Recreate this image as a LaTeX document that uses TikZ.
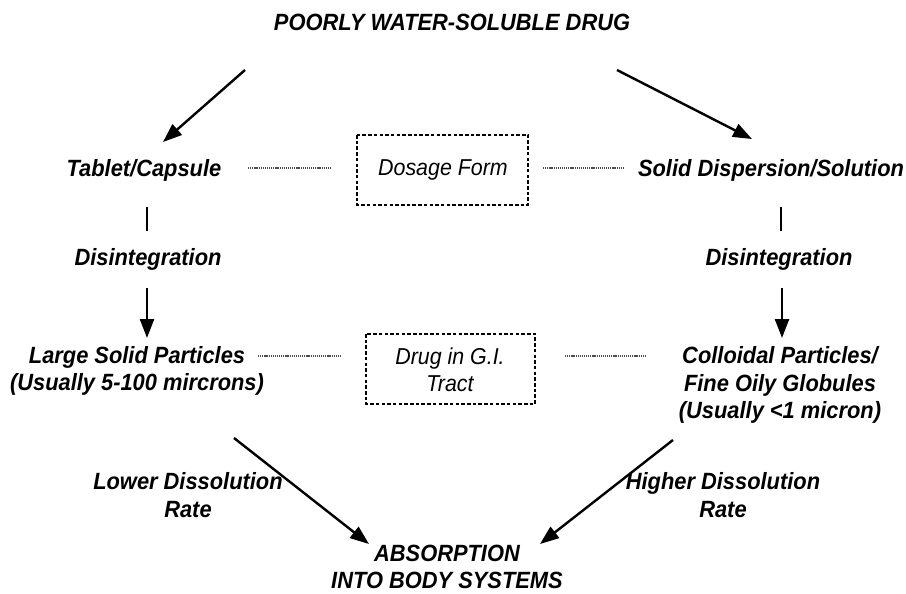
\documentclass[tikz,border=0pt]{standalone}
\usepackage{fontspec}
\setmainfont{Liberation Sans}[FakeStretch=0.93]
\usetikzlibrary{arrows.meta}
\begin{document}
\begin{tikzpicture}[x=1pt,y=-1pt,
  lbl/.style={font=\fontsize{23.5}{27.5}\selectfont\bfseries\itshape, align=center, inner sep=0pt},
  boxlbl/.style={font=\fontsize{23}{27}\selectfont\itshape, align=center, inner sep=0pt},
  dbox/.style={draw, line width=1.6pt, dash pattern=on 3.5pt off 2.2pt},
  dline/.style={draw=black!70, line width=1.2pt, dash pattern=on 1.2pt off 0.9pt},
  arr/.style={line width=2.4pt, -{Triangle[length=19pt,width=14pt]}},
  bar/.style={line width=2.6pt}]
\useasboundingbox (0,0) rectangle (906,594);
\fill[white] (0,0) rectangle (906,594);
% nodes
\node[lbl] (title) at (452,22) {POORLY WATER-SOLUBLE DRUG};
\node[lbl] (tab) at (144,170) {Tablet/Capsule};
\node[lbl] (sol) at (771,170) {Solid Dispersion/Solution};
\draw[dbox] (357,135) rectangle (528,205);
\node[boxlbl] (dose) at (443,170) {Dosage Form};
\node[lbl] (disL) at (148,259) {Disintegration};
\node[lbl] (disR) at (779,259) {Disintegration};
\node[lbl] (large) at (137,371) {Large Solid Particles\\(Usually 5-100 mircrons)};
\draw[dbox] (366,334) rectangle (535,404);
\node[boxlbl] (gi) at (450,370) {Drug in G.I.\\Tract};
\node[lbl] (coll) at (780,385) {Colloidal Particles/\\Fine Oily Globules\\(Usually <1 micron)};
\node[lbl] (lower) at (188,495) {Lower Dissolution\\Rate};
\node[lbl] (higher) at (723,495) {Higher Dissolution\\Rate};
\node[lbl] (abs) at (447,567) {ABSORPTION\\INTO BODY SYSTEMS};
% coordinates
\coordinate (tA) at (245,70);  \coordinate (tabT) at (163,142);
\coordinate (tB) at (617,70);  \coordinate (solT) at (752,139);
\coordinate (l1a) at (248,168); \coordinate (l1b) at (330,168);
\coordinate (l2a) at (543,168); \coordinate (l2b) at (623,168);
\coordinate (l3a) at (258,356); \coordinate (l3b) at (340,356);
\coordinate (l4a) at (565,356); \coordinate (l4b) at (645,356);
\coordinate (bLa) at (147,207); \coordinate (bLb) at (147,231);
\coordinate (bRa) at (781,207); \coordinate (bRb) at (781,231);
\coordinate (dLa) at (147,288); \coordinate (dLb) at (147,338);
\coordinate (dRa) at (782,288); \coordinate (dRb) at (782,338);
\coordinate (aL) at (234,438);  \coordinate (absL) at (369,544);
\coordinate (aR) at (673,440);  \coordinate (absR) at (540,544);
% connectors
\draw[arr] (tA) -- (tabT);
\draw[arr] (tB) -- (solT);
\draw[dline] (l1a) -- (l1b);
\draw[dline] (l2a) -- (l2b);
\draw[dline] (l3a) -- (l3b);
\draw[dline] (l4a) -- (l4b);
\draw[bar] (bLa) -- (bLb);
\draw[bar] (bRa) -- (bRb);
\draw[arr] (dLa) -- (dLb);
\draw[arr] (dRa) -- (dRb);
\draw[arr] (aL) -- (absL);
\draw[arr] (aR) -- (absR);
\end{tikzpicture}
\end{document}
